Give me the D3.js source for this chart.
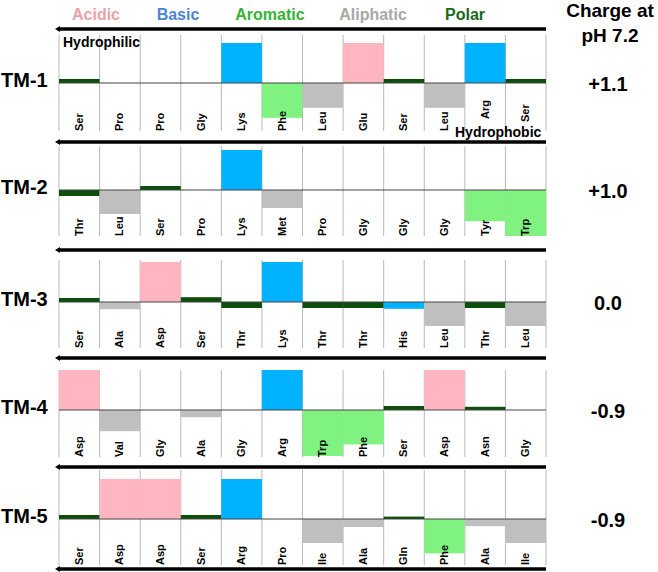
<!DOCTYPE html>
<html><head><meta charset="utf-8">
<script src="https://cdn.jsdelivr.net/npm/d3@7"></script>
<style>body{margin:0;background:#fff}svg{display:block;font-family:"Liberation Sans",Arial,Helvetica,sans-serif;font-weight:bold}</style>
</head><body><svg id="c" width="658" height="572"></svg>
<script>
// ---- data ----
const panels = ["TM-1","TM-2","TM-3","TM-4","TM-5"];
const charges = ["+1.1","+1.0","0.0","-0.9","-0.9"];
const residues1 = ["Ser","Pro","Pro","Gly","Lys","Phe","Leu","Glu","Ser","Leu","Arg","Ser"];
const values1   = [0.1,0,0,0,1,-0.87,-0.62,1,0.1,-0.62,1,0.1];
const residues2 = ["Thr","Leu","Ser","Pro","Lys","Met","Pro","Gly","Gly","Gly","Tyr","Trp"];
const values2   = [-0.15,-0.6,0.1,0,1,-0.45,0,0,0,0,-0.78,-1.15];
const residues3 = ["Ser","Ala","Asp","Ser","Thr","Lys","Thr","Thr","His","Leu","Thr","Leu"];
const values3   = [0.1,-0.18,1,0.12,-0.15,1,-0.15,-0.15,-0.17,-0.6,-0.15,-0.6];
const residues4 = ["Asp","Val","Gly","Ala","Gly","Arg","Trp","Phe","Ser","Asp","Asn","Gly"];
const values4   = [1,-0.53,0,-0.18,0,1,-1.15,-0.86,0.1,1,0.08,0];
const residues5 = ["Ser","Asp","Asp","Ser","Arg","Pro","Ile","Ala","Gln","Phe","Ala","Ile"];
const values5   = [0.1,1,1,0.1,1,0,-0.6,-0.2,0.06,-0.86,-0.18,-0.6];
const classes = ["Acidic","Basic","Aromatic","Aliphatic","Polar"];
const classMembers = [["Asp","Glu"],["Lys","Arg","His"],["Phe","Trp","Tyr"],["Leu","Ile","Val","Ala","Met"],["Ser","Thr","Asn","Gln"]];

const residues = [residues1,residues2,residues3,residues4,residues5];
const values = [values1,values2,values3,values4,values5];

// ---- styles / layout ----
const legendColors = ["#eea1a6","#4a86d6","#33b533","#a8a8a8","#156b15"];
const barColors = ["#ffb6c1","#00b2ff","#80f280","#bfbfbf","#0b4f0b"];
const zeroY = [83,190,302,410,519];
const gridTop = [35,146,260,370,470];
const gridBot = [131,236,348,457,565];
const sepY = [29,142,250,358,467,569];
// label lift (px) in TM-1 to make room for "Hydrophobic"
const labelLift = (p,i)=> (p===0 && i===10) ? 12 : (p===0 && i===11) ? 9 : 0;

const svg = d3.select("#c");
const x = d3.scaleBand().domain(d3.range(12)).range([59,546]).padding(0);
const color = d3.scaleOrdinal().domain(classes).range(barColors);
function classOf(r){ for(let i=0;i<classes.length;i++) if(classMembers[i].includes(r)) return classes[i]; return null; }

// legend
const lx = [96,178,270,373,465];
svg.selectAll("text.leg").data(classes).join("text")
  .attr("x",(d,i)=>lx[i]).attr("y",20).attr("text-anchor","middle")
  .attr("font-size",16).attr("fill",(d,i)=>legendColors[i]).text(d=>d);

svg.append("text").attr("x",610).attr("y",17).attr("text-anchor","middle").attr("font-size",19).text("Charge at");
svg.append("text").attr("x",610).attr("y",42).attr("text-anchor","middle").attr("font-size",19).text("pH 7.2");

panels.forEach((name,p)=>{
  const y = d3.scaleLinear().domain([-1.2,1.2]).range([zeroY[p]+48, zeroY[p]-48]);
  const g = svg.append("g");
  g.selectAll("line.grid").data(d3.range(13)).join("line")
    .attr("x1",i=>i<12?x(i):x(11)+x.bandwidth()).attr("x2",i=>i<12?x(i):x(11)+x.bandwidth())
    .attr("y1",gridTop[p]).attr("y2",gridBot[p])
    .attr("stroke","#b8b8b8").attr("stroke-width",1);
  const data = residues[p].map((r,i)=>({r,i,v:values[p][i],c:classOf(r)}));
  g.selectAll("rect").data(data.filter(d=>d.v!==0 && d.c)).join("rect")
    .attr("x",d=>x(d.i)).attr("width",x.bandwidth())
    .attr("y",d=>Math.min(y(d.v),y(0))).attr("height",d=>Math.abs(y(d.v)-y(0)))
    .attr("fill",d=>color(d.c));
  g.append("line").attr("x1",x(0)).attr("x2",x(11)+x.bandwidth())
    .attr("y1",y(0)).attr("y2",y(0)).attr("stroke","#444").attr("stroke-width",1);
  g.selectAll("text.res").data(data).join("text")
    .attr("transform",d=>`translate(${x(d.i)+x.bandwidth()/2+3.5},${gridBot[p]-labelLift(p,d.i)}) rotate(-90)`)
    .attr("font-size",11).attr("fill","#000").text(d=>d.r);
  g.append("text").attr("x",1).attr("y",zeroY[p]+4).attr("font-size",20).text(name);
  g.append("text").attr("x",608).attr("y",zeroY[p]+8).attr("text-anchor","middle").attr("font-size",20).text(charges[p]);
});

svg.selectAll("line.sep").data(sepY).join("line")
  .attr("x1",58).attr("x2",546).attr("y1",d=>d).attr("y2",d=>d)
  .attr("stroke","#000").attr("stroke-width",3.5);
svg.selectAll("path.arr").data(sepY).join("path")
  .attr("d",d=>`M55,${d} L60,${d-3} L60,${d+3} Z`).attr("fill","#000");

svg.append("text").attr("x",63).attr("y",47).attr("font-size",14).text("Hydrophilic");
svg.append("text").attr("x",455).attr("y",137).attr("font-size",14).text("Hydrophobic");
</script></body></html>
